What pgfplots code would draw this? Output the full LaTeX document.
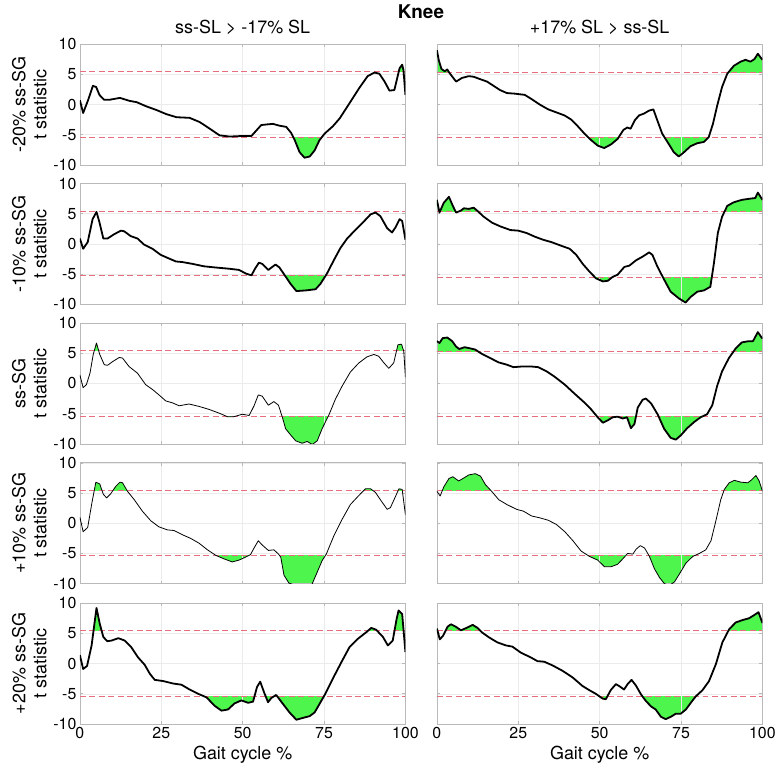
\documentclass[border=0pt]{standalone}
\usepackage{fontspec}
\setmainfont{TeX Gyre Heros}
\usepackage{pgfplots}
\usepackage{pgfplotstable}
\pgfplotsset{compat=1.18}
\usepgfplotslibrary{fillbetween}
\definecolor{spmgreen}{RGB}{77,245,77}
\definecolor{thrcol}{RGB}{230,110,125}
\definecolor{boxgray}{RGB}{185,185,185}
\definecolor{gridgray}{RGB}{235,235,235}

\pgfplotstableread{
x y
0 0.7
1 -1.4
2.5 0.7
4 3.1
5 2.9
6 1.6
7.4 0.8
9.2 0.8
12.3 1.1
15.3 0.6
17.4 0.4
20.4 -0.3
23.5 -0.9
26.6 -1.6
29.7 -2.1
33.7 -2.2
36.8 -2.9
39.9 -4.0
42.9 -5.1
46 -5.3
48 -5.25
50.1 -5.2
52.7 -5.2
54.2 -4.3
55.7 -3.4
57.3 -3.3
59.3 -3.2
61.3 -3.5
63.4 -3.7
64.9 -4.7
66 -5.9
67.5 -7.9
69 -8.8
70.6 -8.6
72.1 -7.6
73.6 -5.9
75.2 -4.8
77.7 -3.6
79.8 -2.3
82.8 0.2
85.9 2.8
88.4 4.7
90.5 5.3
92 5.1
93.6 3.8
95.1 2.3
96.6 2.4
98.2 6.0
99 6.6
99.4 5.7
100 1.6
}\dataLa

\pgfplotstableread{
x y
0 0.9
1 -0.8
2.4 0.3
3.9 4.1
5.1 5.3
6 3.6
7.2 0.9
8.5 0.9
10.5 1.6
12.6 2.2
13.6 2.1
15.6 1.3
17.7 0.9
19.7 -0.1
22.3 -0.8
24.8 -1.8
26.9 -2.3
29.5 -2.9
31.5 -3.0
34.6 -3.3
38.1 -3.7
41.7 -3.9
45.8 -4.1
48.9 -4.3
51 -4.9
52.7 -5.2
53.8 -4.1
55 -3.1
56 -3.3
57.9 -4.3
60.1 -3.4
61.3 -3.9
63.2 -5.4
64.7 -6.6
66.5 -7.8
69.3 -7.7
72.4 -7.5
73.9 -6.6
75.9 -4.9
78 -2.7
80 -0.7
82.1 0.9
84.6 2.3
87.2 3.7
89.3 4.9
90.8 5.2
92.3 4.6
94.4 2.6
95.9 1.9
96.9 2.7
98.2 4.1
99 3.8
100 0.7
}\dataLb

\pgfplotstableread{
x y
0 1.4
1 -0.7
2 -0.2
3.1 1.7
4.1 4.8
5.1 6.7
6.1 4.8
7.5 3.1
8.5 3.0
10 3.6
12.1 4.3
13.1 4.2
15.1 2.8
17.7 1.7
20.2 -0.2
22.3 -1.0
24.3 -1.9
26.4 -2.9
28.4 -3.2
30.5 -3.7
33.5 -3.4
36.6 -3.8
39.7 -4.3
42.7 -4.9
45.3 -5.5
47.3 -5.5
49.9 -5.1
52 -5.3
53.5 -3.7
54.8 -1.9
56 -2.1
57.9 -3.6
59.6 -3.0
61 -3.6
62.2 -5.6
63.2 -7.5
64.7 -8.5
66.3 -9.5
68.3 -9.9
69.8 -9.6
71.4 -10.1
72.9 -9.5
74.4 -7.5
76.5 -5.2
78.5 -2.6
80.6 -0.4
83.1 1.9
85.7 3.4
88.2 4.4
90.3 4.8
91.8 4.5
93.4 3.4
94.9 2.5
96.4 3.4
97.7 6.4
98.8 6.5
99.5 5.3
100 1.0
}\dataLc

\pgfplotstableread{
x y
0 1.0
1 -1.4
2.4 -0.7
3.7 3.4
4.9 6.8
6.1 6.5
7.2 4.8
8.2 4.2
9.5 4.9
11 6.1
12.3 6.8
13.1 6.7
14.6 5.3
16.7 3.9
19.2 2.0
21.8 0.4
24.3 -0.6
26.9 -1.1
28.9 -1.2
31.5 -1.9
34 -2.5
36.6 -3.3
39.2 -4.4
41.7 -5.3
44.3 -5.9
46.8 -6.4
48.9 -6.1
50.9 -5.6
52.4 -5.2
53.5 -4.1
54.8 -2.9
56 -3.6
57.9 -4.5
59.6 -4.4
61 -5.1
61.7 -5.6
62.7 -8.6
64.2 -9.9
66.3 -10.3
69.3 -10.4
71.3 -10.1
72.9 -8.1
74.4 -6.2
75.7 -5.1
78 -2.1
80.6 0.7
83.1 3.1
85.7 4.6
87.7 5.7
89.3 5.7
90.8 5.1
92.3 3.9
94.4 2.3
95.4 2.6
97 4.5
98 5.7
99 5.6
100 1.4
}\dataLd

\pgfplotstableread{
x y
0 1.4
1 -0.9
2.2 -0.4
3.6 3.0
5.1 9.2
6.1 6.6
7.2 4.4
8.4 3.7
9.7 3.8
11.8 4.2
13.8 3.8
15.8 2.7
17.9 1.0
19.9 -0.2
21.5 -1.7
23 -2.7
25.6 -2.9
28.6 -3.3
31.2 -3.5
33.7 -4.3
36.3 -5.0
38.9 -5.6
41.4 -7.0
43.5 -7.8
45.5 -7.6
47.5 -6.6
49.6 -6.1
51.7 -6.5
53.2 -6.3
54.4 -3.9
55.4 -3.0
56.6 -4.8
57.8 -6.4
58.8 -5.7
60.3 -5.2
62.4 -6.7
64.4 -8.1
66.5 -9.3
68.5 -9.0
70.6 -8.7
72.1 -8.1
73.6 -6.7
75.2 -5.2
77.7 -2.5
80.3 0.2
82.8 2.7
85.4 4.1
88 5.2
89.5 5.9
91 5.6
93.1 4.4
94.6 3.0
96.1 3.8
97.3 7.4
97.9 8.8
99 8.2
100 1.9
}\dataLe

\pgfplotstableread{
x y
0 9.0
0.6 7.3
1.4 5.9
2.4 5.5
3.2 5.8
3.9 5.2
4.9 4.5
5.9 3.8
7.7 4.4
9.8 4.7
11.3 4.6
13.3 4.2
15.4 3.8
17.4 3.1
19.4 2.4
21.5 1.9
24 1.8
27 1.6
29.1 0.9
31.6 0
34.2 -0.8
36.7 -1.3
39.2 -1.8
41.3 -2.5
43.3 -3.6
45.3 -4.8
47.4 -5.9
49.4 -6.8
51.4 -7.2
53.5 -6.6
55.5 -5.7
57.3 -4.2
58.5 -3.8
59.5 -4.0
60.8 -2.6
62.1 -1.8
63.6 -1.5
65.2 -1.0
66.5 -0.8
67.7 -2.6
69.2 -4.8
71.3 -6.6
72.8 -7.9
74.3 -8.6
75.9 -7.9
77.9 -6.9
80 -6.4
82 -6.2
83.5 -5.4
84.8 -3.2
86.1 -0.2
87.6 2.9
89.2 5.1
91.2 6.4
93.3 7.1
94.8 7.4
96.3 7.1
97.5 7.5
98.6 8.4
100 7.4
}\dataRa

\pgfplotstableread{
x y
0 7.3
0.8 5.2
2.1 6.8
3.7 7.8
4.9 6.3
5.9 5.2
7.3 5.5
8.3 5.9
9.8 5.8
11.3 6.0
12.4 5.5
14.4 4.5
17 3.5
19.5 2.9
22.6 2.3
25 2.2
27.6 1.8
30.1 1.2
32.6 0.7
35.2 0.3
38.2 -0.3
40.8 -0.8
42.8 -1.8
44.8 -3.3
46.9 -4.6
48.9 -5.7
51 -6.2
52.5 -6.1
54 -5.45
55.5 -5.1
57.6 -3.8
59.1 -3.6
61.2 -2.7
63.2 -2.1
65.2 -1.4
66.2 -1.8
67.7 -3.7
69.8 -5.9
71.8 -7.9
74.3 -9.0
76.4 -9.7
77.9 -8.8
80 -7.9
82 -7.7
84 -7.1
85.1 -3.2
86.3 1.8
87.6 4.5
89.2 6.3
91.2 6.9
93.7 7.3
96.3 7.5
97.8 7.6
98.6 8.5
100 7.3
}\dataRb

\pgfplotstableread{
x y
0 7.0
0.8 6.7
1.8 7.5
3.2 7.6
4.7 7.0
5.9 6.1
6.9 5.7
8.5 6.0
10.3 5.8
11.8 5.6
13.8 4.9
16.4 4.2
18.9 3.5
21.5 3.1
23.5 2.7
26 2.8
29.1 2.8
31.1 2.7
33.7 2.0
36.2 1.1
39.3 -0.2
42.3 -1.7
45.4 -3.2
47.4 -4.3
49.4 -5.6
51 -6.5
52.5 -6.1
54 -5.6
55.5 -5.5
57.1 -5.8
58.4 -5.6
59.6 -7.4
60.7 -6.7
61.7 -4.0
63.2 -2.7
64.2 -2.5
65.8 -3.3
67.8 -5.1
69.8 -7.5
71.8 -9.0
73.4 -9.3
74.9 -8.6
76.9 -7.4
79 -6.4
81 -5.6
83 -5.1
84.6 -3.6
86.1 -0.4
87.6 2.0
89.7 4.2
91.8 5.8
93.7 6.8
95.8 7.0
97.1 7.0
98.6 8.5
100 7.4
}\dataRc

\pgfplotstableread{
x y
0 5.3
1 4.5
2.1 6.0
3.7 7.4
4.9 7.7
6.7 7.0
8.3 7.5
9.8 8.0
11.8 8.2
13.4 7.8
14.9 6.4
16.8 5.3
19 3.9
21.5 3.1
24.5 2.3
26.6 2.0
29.1 1.2
31.6 0.9
34.2 0.5
36.7 -0.2
39.3 -1.4
41.8 -2.9
44.3 -4.6
46.9 -5.5
49.4 -6.1
51.5 -7.2
53.5 -7.2
55.5 -6.8
57.1 -5.9
58.6 -5.0
60.2 -5.1
61.2 -4.3
62.5 -3.7
63.8 -4.1
65.3 -5.5
66.8 -7.5
68.4 -9.0
69.9 -10.0
71.4 -10.3
73 -9.7
74.5 -8.4
76.5 -6.6
78.6 -5.5
80.6 -5.0
82.6 -4.4
84.2 -2.9
85.7 0.4
87.2 3.9
88.3 5.6
89.8 6.7
91.4 7.1
93.4 6.8
95.5 6.7
96.7 7.2
98 7.9
99 7.0
100 5.3
}\dataRd

\pgfplotstableread{
x y
0 5.8
0.9 4.0
1.9 4.6
3.3 6.1
4.3 6.5
5.8 6.1
7.4 5.5
9.1 5.9
11 6.4
12.5 5.9
14 5.1
16.1 4.3
18.6 3.5
21.2 3.0
23.2 2.8
25.8 1.8
28.9 1.0
30.9 0.4
33 0.3
35.5 -0.3
38.6 -1.2
41.7 -2.3
44.7 -3.7
46.8 -4.4
48.8 -5.0
50.9 -5.8
51.9 -5.9
53.4 -4.4
55 -3.4
56.2 -3.8
57.5 -4.3
58.6 -3.4
59.8 -2.7
61.1 -3.6
62.7 -5.1
64.2 -6.2
65.8 -7.1
67.2 -7.6
68.8 -8.8
70.3 -9.2
71.9 -8.8
73.4 -8.3
74.9 -8.3
76.5 -7.6
78 -6.5
79.5 -5.45
81.6 -4.4
83.6 -2.9
85.7 -0.1
87.7 3.5
89.8 5.7
91.8 6.8
93.9 7.2
95.9 7.5
97.4 8.0
98.8 8.5
100 6.7
}\dataRe

\pgfplotsset{
  panel/.style={
    scale only axis, width=326bp, height=121bp, anchor=north west,
    xmin=0, xmax=100, ymin=-10, ymax=10,
    xtick={0,25,50,75,100}, ytick={-10,-5,0,5,10},
    grid=major, major grid style={gridgray, line width=0.5bp},
    axis line style={boxgray, line width=0.7bp},
    tick style={boxgray, line width=0.6bp}, tick align=inside, major tick length=3bp,
    ticklabel style={font=\fontsize{16}{18}\selectfont, text=black},
    /pgf/number format/assume math mode=true,
    xticklabels={}, yticklabels={},
    ylabel style={align=center, font=\fontsize{18}{21}\selectfont},
    xlabel style={font=\fontsize{18}{21}\selectfont},
    title style={font=\fontsize{18}{21}\selectfont},
  },
  fillax/.style={
    scale only axis, width=326bp, xmin=0, xmax=100, hide axis, clip=true,
  },
  leftcol/.style={yticklabels={-10,-5,0,5,10}},
  bottomrow/.style={xticklabels={0,25,50,75,100}, xlabel={Gait cycle \%}},
}

% #1 x, #2 top y, #3 table, #4 upper thr, #5 lower thr, #6 line width, #7 frame options
\newcommand{\spmpanel}[7]{%
  \begin{axis}[panel, at={(#1bp,#2bp)}, #7]
  \end{axis}
  \pgfmathsetmacro{\hU}{121*(10-#4)/20}%
  \pgfmathsetmacro{\hL}{121*(#5+10)/20}%
  \pgfmathsetmacro{\yB}{#2-121}%
  \begin{axis}[fillax, at={(#1bp,#2bp)}, anchor=north west, height=\hU bp, ymin=#4, ymax=10]
    \addplot[name path=cu, draw=none] table {#3};
    \addplot[name path=bu, draw=none] coordinates {(0,-30) (100,-30)};
    \addplot[spmgreen, draw=none] fill between[of=cu and bu];
  \end{axis}
  \begin{axis}[fillax, at={(#1bp,\yB bp)}, anchor=south west, height=\hL bp, ymin=-10, ymax=#5]
    \addplot[name path=cl, draw=none] table {#3};
    \addplot[name path=bl, draw=none] coordinates {(0,30) (100,30)};
    \addplot[spmgreen, draw=none] fill between[of=cl and bl];
  \end{axis}
  \begin{axis}[fillax, at={(#1bp,#2bp)}, anchor=north west, height=121bp, ymin=-10, ymax=10]
    \addplot[thrcol, line width=0.95bp, dash pattern=on 6bp off 3.5bp] coordinates {(0,#4) (100,#4)};
    \addplot[thrcol, line width=0.95bp, dash pattern=on 6bp off 3.5bp] coordinates {(0,#5) (100,#5)};
    \addplot[black, line width=#6, line join=round] table {#3};
  \end{axis}
}

\begin{document}
\begin{tikzpicture}
% row 1
\spmpanel{80}{733.8}{\dataLa}{5.4}{-5.4}{1.8bp}{leftcol, title={ss-SL > -17\% SL}, ylabel={-20\% ss-SG\\t statistic}}
\spmpanel{437.5}{733.8}{\dataRa}{5.3}{-5.5}{1.8bp}{title={+17\% SL > ss-SL}}
% row 2
\spmpanel{80}{594.2}{\dataLb}{5.4}{-5.3}{1.8bp}{leftcol, ylabel={-10\% ss-SG\\t statistic}}
\spmpanel{437.5}{594.2}{\dataRb}{5.3}{-5.5}{1.8bp}{}
% row 3
\spmpanel{80}{454.5}{\dataLc}{5.4}{-5.4}{0.8bp}{leftcol, ylabel={ss-SG\\t statistic}}
\spmpanel{437.5}{454.5}{\dataRc}{5.3}{-5.4}{1.8bp}{}
% row 4
\spmpanel{80}{314.5}{\dataLd}{5.4}{-5.4}{0.8bp}{leftcol, ylabel={+10\% ss-SG\\t statistic}}
\spmpanel{437.5}{314.5}{\dataRd}{5.4}{-5.4}{0.8bp}{}
% row 5
\spmpanel{80}{174}{\dataLe}{5.4}{-5.4}{1.8bp}{leftcol, bottomrow, ylabel={+20\% ss-SG\\t statistic}}
\spmpanel{437.5}{174}{\dataRe}{5.4}{-5.5}{1.8bp}{bottomrow}
\node[font=\bfseries\fontsize{19}{22}\selectfont] at (421.5bp,766bp) {Knee};
\path (0,0) rectangle (779bp,778bp);
\end{tikzpicture}
\end{document}
